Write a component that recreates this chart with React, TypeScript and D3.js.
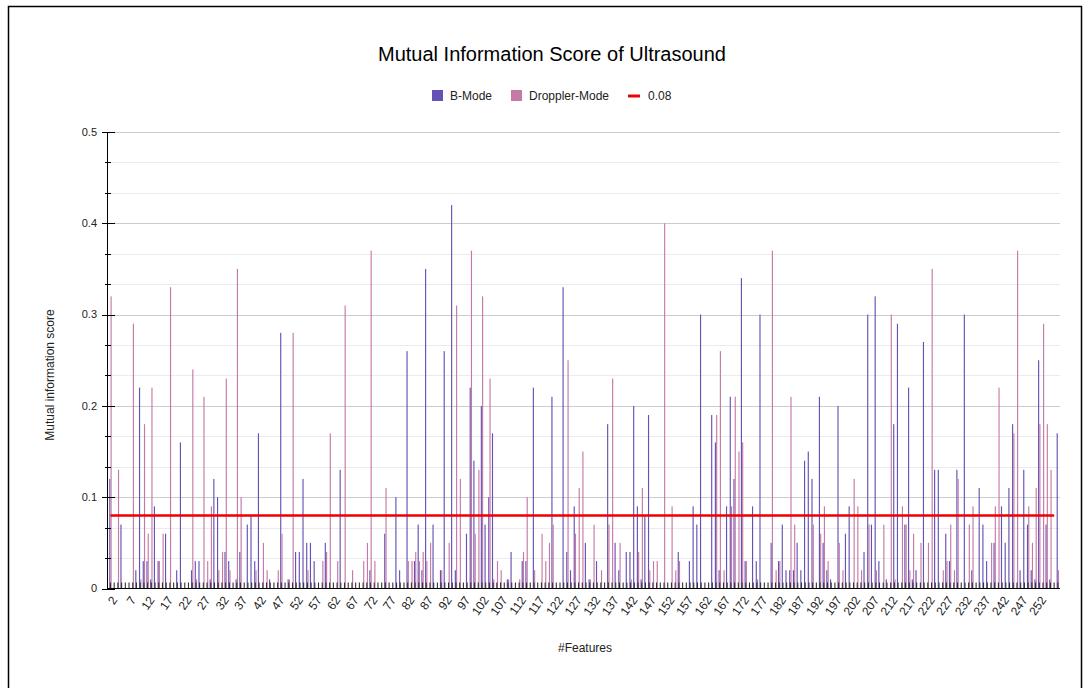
import React, { useEffect, useRef } from "react";
import * as d3 from "d3";

// features 2..257 (256 features)
const features: string[] = d3.range(2, 258).map(String);

// B-Mode mutual information score per feature
const bMode: number[] = [
  0.12, 0, 0, 0.07, 0, 0, 0, 0.02, 0.22, 0.03, 0.03, 0.01, 0.09, 0.03, 0, 0.06,
  0, 0, 0.02, 0.16, 0, 0, 0.02, 0.03, 0.03, 0, 0, 0.01, 0.12, 0.1, 0, 0.04,
  0.03, 0, 0.01, 0.04, 0, 0.07, 0.08, 0.03, 0.17, 0, 0, 0.01, 0, 0, 0.28, 0,
  0.01, 0, 0.04, 0.04, 0.12, 0.05, 0.05, 0.03, 0, 0, 0.05, 0, 0, 0, 0.13, 0,
  0, 0, 0, 0, 0, 0, 0.02, 0, 0, 0, 0.06, 0, 0, 0.1, 0.02, 0,
  0.26, 0, 0.03, 0.07, 0.02, 0.35, 0, 0.07, 0, 0.02, 0.26, 0, 0.42, 0.02, 0, 0,
  0.06, 0.22, 0.14, 0, 0.2, 0.07, 0.1, 0.17, 0, 0, 0, 0.01, 0.04, 0, 0, 0.03,
  0.03, 0, 0.22, 0, 0, 0, 0, 0.21, 0, 0, 0.33, 0.04, 0.02, 0.09, 0, 0,
  0.05, 0.01, 0, 0.03, 0, 0, 0.18, 0, 0.05, 0.02, 0, 0.04, 0.04, 0.2, 0.09, 0.01,
  0.08, 0.19, 0, 0, 0, 0, 0, 0, 0, 0.04, 0, 0, 0.03, 0.09, 0.07, 0.3,
  0, 0, 0.19, 0.16, 0.02, 0, 0.09, 0.21, 0.12, 0, 0.34, 0.03, 0, 0.09, 0.03, 0.3,
  0, 0, 0.05, 0, 0.03, 0.07, 0.02, 0.02, 0.02, 0.05, 0.02, 0.14, 0.15, 0.12, 0, 0.21,
  0.05, 0.02, 0.01, 0, 0.2, 0, 0.06, 0.09, 0, 0, 0, 0.04, 0.3, 0.07, 0.32, 0.03,
  0, 0.01, 0, 0.18, 0.29, 0, 0.07, 0.22, 0.01, 0.02, 0, 0.27, 0, 0, 0.13, 0.13,
  0, 0.06, 0.03, 0, 0.13, 0, 0.3, 0, 0.02, 0, 0.11, 0.07, 0.03, 0, 0.05, 0,
  0.09, 0.05, 0.11, 0.18, 0, 0.02, 0.13, 0.07, 0.02, 0.01, 0.25, 0, 0.07, 0.01, 0, 0.17,
];

// Droppler-Mode mutual information score per feature
const dropplerMode: number[] = [
  0.32, 0, 0.13, 0, 0, 0, 0.29, 0, 0.01, 0.18, 0.06, 0.22, 0, 0.03, 0.06, 0,
  0.33, 0, 0, 0, 0, 0, 0.24, 0.01, 0, 0.21, 0.03, 0.09, 0, 0.02, 0.04, 0.23,
  0.02, 0, 0.35, 0.1, 0, 0, 0, 0.02, 0, 0.05, 0.02, 0, 0, 0.02, 0.06, 0,
  0.01, 0.28, 0, 0, 0, 0.02, 0, 0, 0, 0.03, 0.04, 0.17, 0, 0.03, 0, 0.31,
  0, 0.02, 0, 0, 0.03, 0.05, 0.37, 0.03, 0, 0, 0.11, 0, 0, 0, 0, 0,
  0.03, 0.03, 0.04, 0.03, 0.04, 0.03, 0.05, 0, 0, 0.02, 0, 0.05, 0, 0.31, 0.12, 0,
  0, 0.37, 0.06, 0.13, 0.32, 0, 0.23, 0.01, 0.03, 0.02, 0, 0.01, 0, 0, 0.01, 0.04,
  0.1, 0, 0.02, 0, 0.06, 0.03, 0.05, 0.07, 0, 0, 0, 0.25, 0, 0.06, 0.11, 0.15,
  0, 0.01, 0.07, 0, 0.02, 0, 0.07, 0.23, 0, 0.05, 0, 0, 0.01, 0, 0.04, 0.11,
  0, 0.02, 0.03, 0.03, 0, 0.4, 0, 0.09, 0.02, 0.03, 0, 0, 0, 0, 0, 0,
  0, 0, 0, 0.19, 0.26, 0.02, 0, 0.09, 0.21, 0.15, 0.16, 0.03, 0, 0, 0.01, 0,
  0, 0, 0.37, 0.02, 0.03, 0, 0, 0.21, 0.07, 0, 0, 0, 0, 0.07, 0, 0.06,
  0.09, 0.03, 0, 0, 0.05, 0.02, 0, 0, 0.12, 0.09, 0.02, 0, 0.07, 0, 0.02, 0,
  0.07, 0, 0.3, 0.01, 0, 0.09, 0.07, 0.02, 0.06, 0, 0.05, 0, 0.05, 0.35, 0, 0,
  0.02, 0.03, 0.07, 0.02, 0.12, 0, 0, 0.07, 0.09, 0, 0, 0, 0, 0.05, 0.09, 0.22,
  0, 0, 0, 0.17, 0.37, 0, 0, 0.09, 0.05, 0.11, 0.18, 0.29, 0.18, 0.13, 0, 0.02,
];

const seriesNames = ["B-Mode", "Droppler-Mode"];
const seriesColors = ["#6652b5", "#c57aa5"];
const threshold = 0.08;
const yTicks = [0, 0.1, 0.2, 0.3, 0.4, 0.5];
// every 5th feature is labelled, the last one (257) is dropped
const xTickLabels = features.filter((_, i) => i % 5 === 0 && i < features.length - 1);

const App = () => {
  const svgRef = useRef<SVGSVGElement>(null);

  useEffect(() => {
    const svg = d3.select(svgRef.current);
    svg.selectAll("*").remove();

    const font = "Arial, 'Liberation Sans', sans-serif";
    const left = 107;
    const right = 1060;
    const top = 132;
    const bottom = 588.5;

    const x = d3
      .scaleBand()
      .domain(features)
      .range([108.6, 1059.7])
      .paddingInner(0.35)
      .paddingOuter(0.175);
    const inner = d3
      .scaleBand()
      .domain(seriesNames)
      .range([0, x.bandwidth()])
      .paddingInner(0.1);
    const y = d3.scaleLinear().domain([0, 0.5]).range([bottom, top]);
    const cx = (f: string) => (x(f) as number) + x.bandwidth() / 2;

    // outer frame
    svg
      .append("rect")
      .attr("x", 8.5)
      .attr("y", 6.5)
      .attr("width", 1073)
      .attr("height", 700)
      .attr("fill", "#fff")
      .attr("stroke", "#000")
      .attr("stroke-width", 1.5);

    // minor gridlines (thirds of 0.1)
    const minor = d3.range(0, 15).map((k) => k / 30).filter((_, k) => k % 3 !== 0);
    svg
      .append("g")
      .selectAll("line")
      .data(minor)
      .join("line")
      .attr("x1", left)
      .attr("x2", right)
      .attr("y1", (d) => Math.round(y(d)) + 0.5)
      .attr("y2", (d) => Math.round(y(d)) + 0.5)
      .attr("stroke", "#ebebeb");

    svg
      .append("g")
      .selectAll("line")
      .data(yTicks.slice(1))
      .join("line")
      .attr("x1", left)
      .attr("x2", right)
      .attr("y1", (d) => Math.round(y(d)) + 0.5)
      .attr("y2", (d) => Math.round(y(d)) + 0.5)
      .attr("stroke", "#cccccc");

    // bars
    const bars = svg.append("g");
    [bMode, dropplerMode].forEach((vals, s) => {
      bars
        .append("g")
        .selectAll("rect")
        .data(features)
        .join("rect")
        .attr("x", (f) => (x(f) as number) + (inner(seriesNames[s]) as number))
        .attr("y", (f, i) => y(vals[i]))
        .attr("width", inner.bandwidth())
        .attr("height", (f, i) => bottom - y(vals[i]))
        .attr("fill", seriesColors[s]);
    });

    // category stubs on the baseline
    svg
      .append("g")
      .selectAll("line")
      .data(features)
      .join("line")
      .attr("x1", (f) => cx(f))
      .attr("x2", (f) => cx(f))
      .attr("y1", bottom)
      .attr("y2", bottom - 6)
      .attr("stroke", "#333")
      .attr("stroke-width", 1.1);

    // threshold line
    svg
      .append("line")
      .attr("x1", cx(features[0]))
      .attr("x2", cx(features[features.length - 2]))
      .attr("y1", y(threshold))
      .attr("y2", y(threshold))
      .attr("stroke", "#ee0000")
      .attr("stroke-width", 2.5);

    // axes lines
    svg
      .append("line")
      .attr("x1", left)
      .attr("x2", right)
      .attr("y1", bottom)
      .attr("y2", bottom)
      .attr("stroke", "#000");
    svg
      .append("line")
      .attr("x1", left + 0.5)
      .attr("x2", left + 0.5)
      .attr("y1", top)
      .attr("y2", bottom)
      .attr("stroke", "#000");

    // y ticks
    svg
      .append("g")
      .selectAll("line")
      .data(minor)
      .join("line")
      .attr("x1", left - 2)
      .attr("x2", left + 4)
      .attr("y1", (d) => Math.round(y(d)) + 0.5)
      .attr("y2", (d) => Math.round(y(d)) + 0.5)
      .attr("stroke", "#000");
    svg
      .append("g")
      .selectAll("line")
      .data(yTicks)
      .join("line")
      .attr("x1", left - 5)
      .attr("x2", left + 8)
      .attr("y1", (d) => Math.round(y(d)) + 0.5)
      .attr("y2", (d) => Math.round(y(d)) + 0.5)
      .attr("stroke", "#000");
    svg
      .append("g")
      .selectAll("text")
      .data(yTicks)
      .join("text")
      .attr("x", 97)
      .attr("y", (d) => y(d))
      .attr("dy", "0.35em")
      .attr("text-anchor", "end")
      .attr("font-family", font)
      .attr("font-size", 11)
      .attr("fill", "#222")
      .text((d) => (d === 0 ? "0" : d3.format(".1f")(d)));

    // x tick labels
    svg
      .append("g")
      .selectAll("text")
      .data(xTickLabels)
      .join("text")
      .attr("transform", (f) => `translate(${cx(f) + 4},${bottom + 9}) rotate(-55)`)
      .attr("text-anchor", "end")
      .attr("dy", "0.35em")
      .attr("font-family", font)
      .attr("font-size", 12)
      .attr("fill", "#222")
      .text((f) => f);

    // titles
    svg
      .append("text")
      .attr("x", 552)
      .attr("y", 61)
      .attr("text-anchor", "middle")
      .attr("font-family", font)
      .attr("font-size", 20)
      .attr("fill", "#000")
      .text("Mutual Information Score of Ultrasound");
    svg
      .append("text")
      .attr("x", 585)
      .attr("y", 652)
      .attr("text-anchor", "middle")
      .attr("font-family", font)
      .attr("font-size", 12)
      .attr("fill", "#222")
      .text("#Features");
    svg
      .append("text")
      .attr("transform", "translate(54,375) rotate(-90)")
      .attr("text-anchor", "middle")
      .attr("font-family", font)
      .attr("font-size", 12)
      .attr("fill", "#222")
      .text("Mutual information score");

    // legend
    const legend = svg.append("g").attr("font-family", font).attr("font-size", 12).attr("fill", "#222");
    const lx = [432, 511];
    seriesNames.forEach((name, s) => {
      legend
        .append("rect")
        .attr("x", lx[s])
        .attr("y", 90)
        .attr("width", 11)
        .attr("height", 11)
        .attr("fill", seriesColors[s]);
      legend
        .append("text")
        .attr("x", lx[s] + 18)
        .attr("y", 100)
        .text(name);
    });
    legend
      .append("line")
      .attr("x1", 628)
      .attr("x2", 640)
      .attr("y1", 96)
      .attr("y2", 96)
      .attr("stroke", "#ee0000")
      .attr("stroke-width", 3);
    legend
      .append("text")
      .attr("x", 648)
      .attr("y", 100)
      .text(String(threshold));
  }, []);

  return (
    <svg
      ref={svgRef}
      width={1090}
      height={688}
      style={{ position: "absolute", left: 0, top: 0 }}
    />
  );
};

export default App;
